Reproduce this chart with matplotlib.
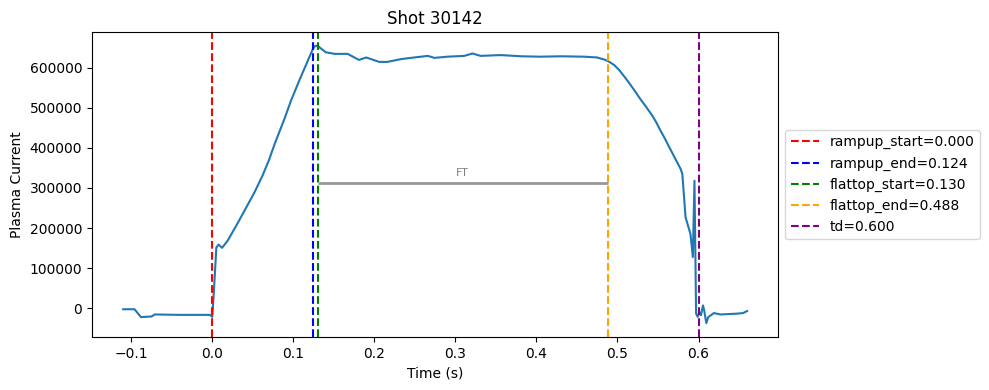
import matplotlib.pyplot as plt

shot = 30142

# plasma current trace
time = [-0.110, -0.096, -0.088, -0.075, -0.071, -0.040, -0.003, 0.000, 0.002, 0.005,
        0.0078, 0.012, 0.019, 0.032, 0.042, 0.052, 0.062, 0.070, 0.077, 0.089, 0.097,
        0.108, 0.117, 0.124, 0.127, 0.130, 0.140, 0.151, 0.167, 0.181, 0.190, 0.206,
        0.216, 0.233, 0.249, 0.266, 0.274, 0.290, 0.311, 0.321, 0.331, 0.356,
        0.381, 0.405, 0.430, 0.459, 0.475, 0.485, 0.490, 0.496, 0.502, 0.509, 0.516,
        0.522, 0.528, 0.535, 0.543, 0.548, 0.553, 0.558, 0.563, 0.570, 0.578, 0.580,
        0.584, 0.590, 0.593, 0.595, 0.596, 0.597,
        0.599, 0.601, 0.603, 0.6055, 0.607, 0.6096, 0.612, 0.619, 0.627, 0.647,
        0.655, 0.660]
current = [-2000, -2000, -21600, -20000, -15000, -16000, -16000, -21000, 45000, 152000,
           159000, 151000, 169000, 215000, 252000, 289000, 331000, 370000, 410000, 472000, 517000,
           571000, 613000, 646000, 654000, 654000, 638000, 634000, 634000, 619000, 625000, 614000,
           614000, 621000, 625000, 629000, 624000, 627000, 629000, 635000, 629000, 631000,
           628000, 627000, 628000, 627000, 625000, 619000, 614000, 606000, 594000, 576000, 557000,
           540000, 522000, 503000, 480000, 463000, 443000, 425000, 405000, 378000, 347000, 335000,
           227000, 186000, 128000, 318000, 152000, -13000,
           -21000, -9000, -17000, 7500, -5000, -36500, -21600, -11500, -15000, -13000,
           -11500, -6500]

rampup_start = 0.000
rampup_end = 0.124
flattop_start = 0.130
flattop_end = 0.488
td = 0.600
ft_level = 313500

fig = plt.figure(figsize=(9.89, 3.9), dpi=100)
plt.plot(time, current)
plt.axvline(rampup_start, color='red', linestyle='--', label=f'rampup_start={rampup_start:.3f}')
plt.axvline(rampup_end, color='blue', linestyle='--', label=f'rampup_end={rampup_end:.3f}')
plt.axvline(flattop_start, color='green', linestyle='--', label=f'flattop_start={flattop_start:.3f}')
plt.axvline(flattop_end, color='orange', linestyle='--', label=f'flattop_end={flattop_end:.3f}')
plt.axvline(td, color='purple', linestyle='--', label=f'td={td:.3f}')

plt.hlines(ft_level, flattop_start, flattop_end, color='gray', linewidth=2, alpha=0.8)
plt.text((flattop_start + flattop_end) / 2, ft_level + 12000, 'FT', color='gray',
         fontsize=8, ha='center', va='bottom')

plt.xlabel('Time (s)')
plt.ylabel('Plasma Current')
plt.title(f'Shot {shot}')
plt.legend(loc='center left', bbox_to_anchor=(1.0, 0.5))
plt.subplots_adjust(left=0.093, right=0.787, top=0.918, bottom=0.136)
plt.savefig('out.png')
